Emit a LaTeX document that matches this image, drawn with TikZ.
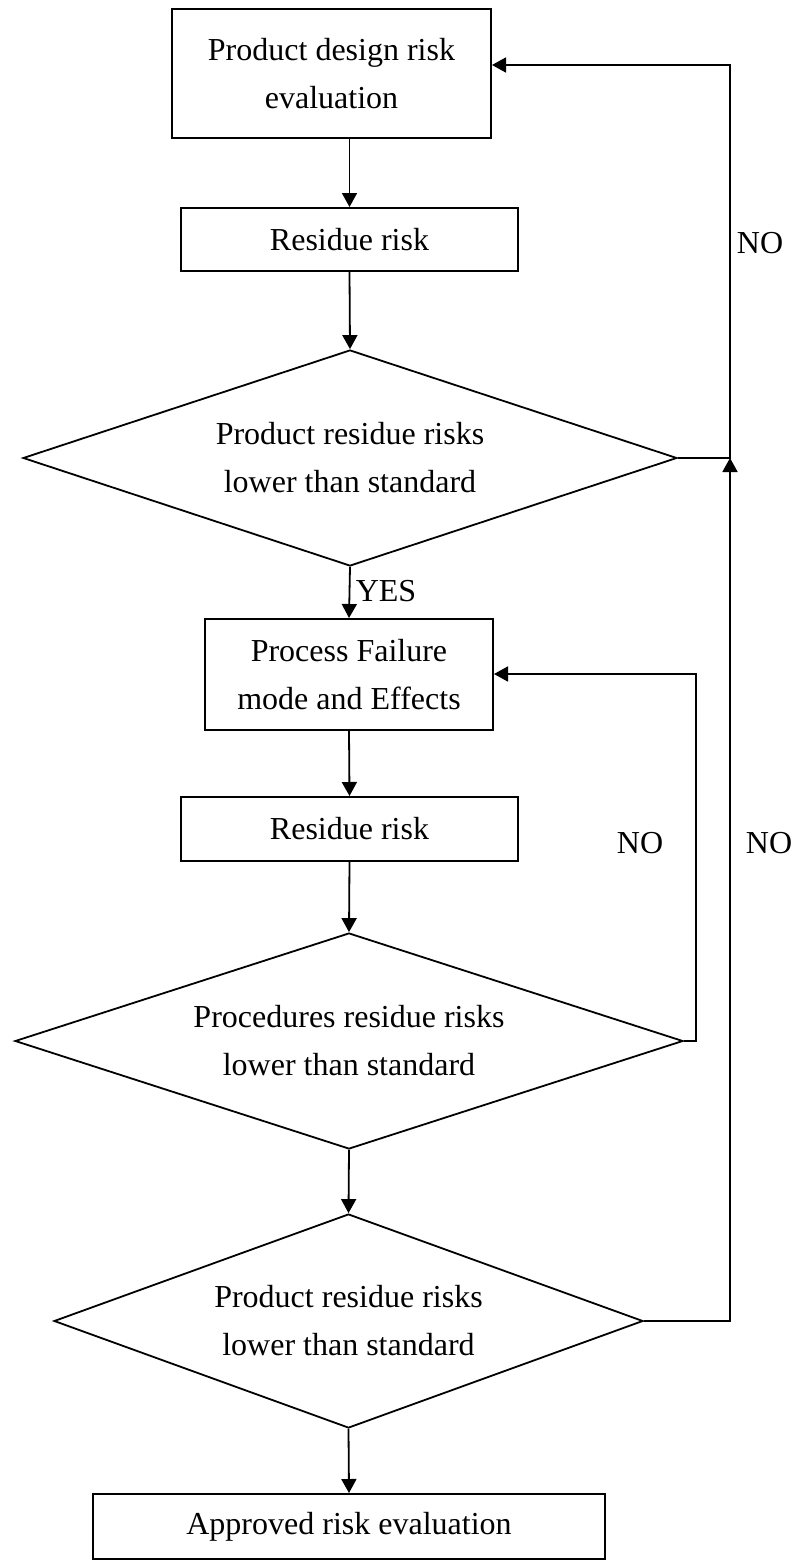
\documentclass[tikz,border=0pt]{standalone}
\usepackage{fontspec}
\setmainfont{Liberation Serif}
\usetikzlibrary{shapes.geometric,arrows.meta,calc}
\begin{document}
\begin{tikzpicture}[x=1pt,y=-1pt,
  every node/.style={font=\fontsize{32}{48}\selectfont},
  box/.style={draw,line width=2pt,rectangle,inner sep=0pt,align=center},
  dia/.style={draw,line width=1.8pt,diamond,aspect=3,inner sep=0pt,align=center},
  arr/.style={line width=1.8pt,-{Triangle[length=14pt,width=15pt]}},
  lbl/.style={inner sep=0pt}]
\useasboundingbox (0,0) rectangle (795,1560);

\node[box,minimum width=319pt,minimum height=129pt] (b1) at (331.5,73.5) {Product design risk\\evaluation};
\node[box,minimum width=337pt,minimum height=63pt] (b2) at (349.5,239.5) {Residue risk};
\node[dia,minimum width=654pt,minimum height=216pt] (d1) at (350,458) {Product residue risks\\lower than standard};
\node[box,minimum width=288pt,minimum height=111pt] (b3) at (349,674.5) {Process Failure\\mode and Effects};
\node[box,minimum width=337pt,minimum height=64pt] (b4) at (349.5,829) {Residue risk};
\node[dia,minimum width=668pt,minimum height=216pt] (d2) at (349,1041) {Procedures residue risks\\lower than standard};
\node[dia,minimum width=589pt,minimum height=214pt] (d3) at (348.5,1321) {Product residue risks\\lower than standard};
\node[box,minimum width=512pt,minimum height=65pt] (b5) at (349,1526.5) {Approved risk evaluation};

\coordinate (nA) at (730,65);
\coordinate (nC) at (696,674);

\draw[arr] (b2.north |- b1.south) -- (b2.north);
\draw[arr] (b2.south) -- (d1.north);
\draw[arr] (d1.south) -- (b3.north);
\draw[arr] (b3.south) -- (b4.north);
\draw[arr] (b4.south) -- (d2.north);
\draw[arr] (d2.south) -- (d3.north);
\draw[arr] (d3.south) -- (b5.north);

\draw[arr] (d1.east) -- (d1.east -| nA) -- (nA) -- (b1.east |- nA);
\draw[arr] (d3.east) -- (d3.east -| nA) -- (d1.east -| nA);
\draw[arr] (d2.east) -- (d2.east -| nC) -- (nC) -- (b3.east |- nC);

\node[lbl] (no1) at (760,243) {NO};
\node[lbl] (no2) at (640,843) {NO};
\node[lbl] (no3) at (769,843) {NO};
\node[lbl] (yes) at (386,591) {YES};
\end{tikzpicture}
\end{document}
